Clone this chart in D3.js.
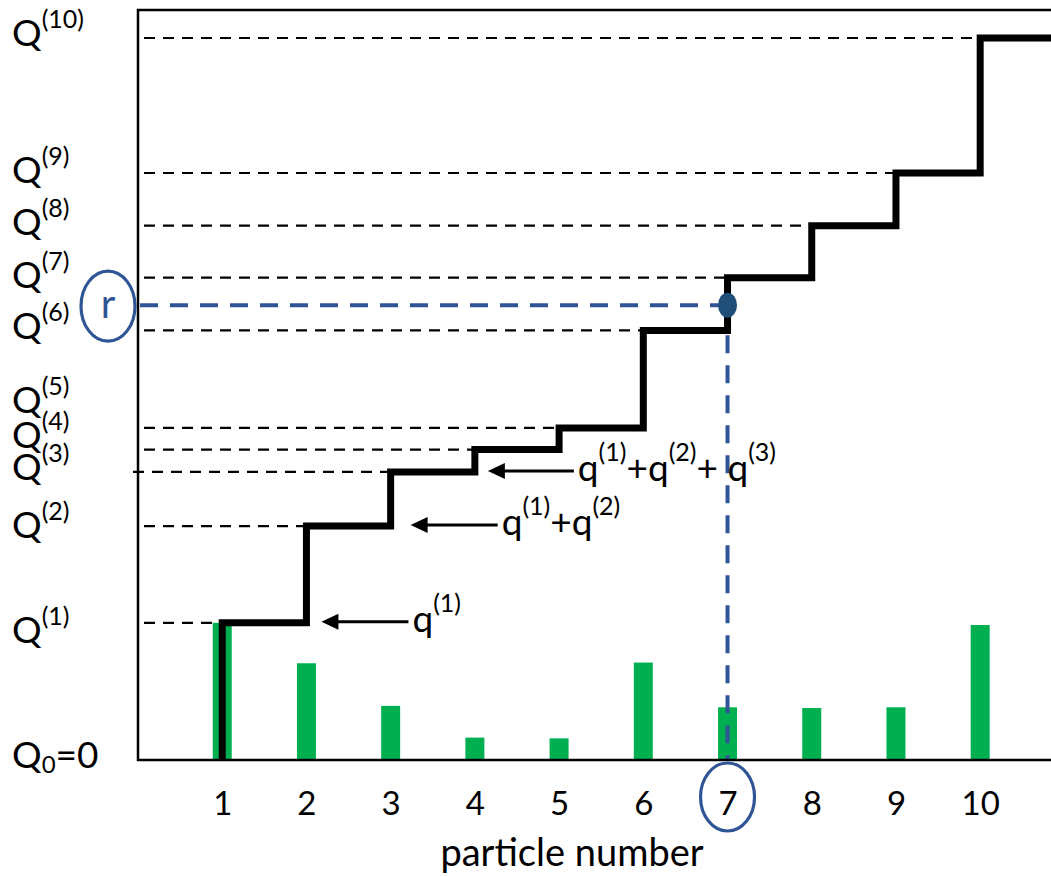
<!DOCTYPE html>
<html>
<head>
<meta charset="utf-8">
<script src="https://cdn.jsdelivr.net/npm/d3@7"></script>
<style>
  html, body { margin: 0; padding: 0; background: #fff; }
  svg { display: block; font-family: Lato, "Open Sans", sans-serif; }
</style>
</head>
<body>
<svg id="chart" width="1051" height="876"></svg>
<script>
// Particle indices and their normalised weights q(i)
const particles = [1, 2, 3, 4, 5, 6, 7, 8, 9, 10];
const weights = [0.19, 0.134, 0.075, 0.031, 0.030, 0.135, 0.073, 0.072, 0.073, 0.187];
const tickLabels = ["1", "2", "3", "4", "5", "6", "7", "8", "9", "10"];
const levelSups = ["(1)", "(2)", "(3)", "(4)", "(5)", "(6)", "(7)", "(8)", "(9)", "(10)"];
// Uniform draw r and the particle it selects
const rValue = 0.63;
const selected = 7;
// Annotations pointing at the first cumulative steps
const sumLabels = [
  ["q", "(1)"],
  ["q", "(1)", "+q", "(2)"],
  ["q", "(1)", "+q", "(2)", "+ q", "(3)"]
];

// Cumulative sums Q(i)
const cumulative = Array.from(d3.cumsum(weights));

const svg = d3.select("#chart");
const BLUE = "#2F5597";
const GREEN = "#00B050";

const x = d3.scaleLinear().domain([0, 11]).range([138, 1064.4]);
const y = d3.scaleLinear().domain([0, 1]).range([760, 38]);
const yTop = 10;

// Pixel nudges of the left-hand level labels below their level
const labelNudge = [20, 12, 8, -2, -15, 9, 10, 9, 10, 8];

// Green weight bars
svg.append("g").selectAll("rect").data(particles).join("rect")
  .attr("x", d => x(d) - 9.5)
  .attr("width", 19)
  .attr("y", (d, i) => y(weights[i]))
  .attr("height", (d, i) => y(0) - y(weights[i]))
  .attr("fill", GREEN);

// Dashed guides from the axis to each step corner
svg.append("g").selectAll("line").data(particles).join("line")
  .attr("x1", (d, i) => i === 2 ? x(0) - 5 : x(0) + 6)
  .attr("x2", d => x(d))
  .attr("y1", (d, i) => y(cumulative[i]))
  .attr("y2", (d, i) => y(cumulative[i]))
  .attr("stroke", "#000")
  .attr("stroke-width", 2.2)
  .attr("stroke-dasharray", "11,8");

// Selection guides for r
svg.append("line")
  .attr("x1", x(0) + 2).attr("x2", x(selected))
  .attr("y1", y(rValue)).attr("y2", y(rValue))
  .attr("stroke", BLUE).attr("stroke-width", 4)
  .attr("stroke-dasharray", "18,12");
svg.append("line")
  .attr("x1", x(selected)).attr("x2", x(selected))
  .attr("y1", y(rValue)).attr("y2", y(0))
  .attr("stroke", BLUE).attr("stroke-width", 4)
  .attr("stroke-dasharray", "18,12");

// Frame
svg.append("path")
  .attr("d", `M${x(11)},${yTop}H${x(0)}V${y(0)}H${x(11)}`)
  .attr("fill", "none").attr("stroke", "#000").attr("stroke-width", 2.5);

// Cumulative step function
const stepPoints = [[1, 0]].concat(particles.map((p, i) => [p + 1, cumulative[i]]));
svg.append("path")
  .datum(stepPoints)
  .attr("d", d3.line().x(d => x(d[0])).y(d => y(d[1])).curve(d3.curveStepBefore))
  .attr("fill", "none").attr("stroke", "#000").attr("stroke-width", 7)
  .attr("stroke-linejoin", "miter");

// Point where r meets the step function
svg.append("ellipse")
  .attr("cx", x(selected)).attr("cy", y(rValue))
  .attr("rx", 9.5).attr("ry", 12.5)
  .attr("fill", "#1F4E79");

// X axis tick labels
const xAxis = d3.axisBottom(x).tickValues(particles)
  .tickFormat((d, i) => tickLabels[i]).tickSize(0).tickPadding(32);
const ax = svg.append("g").attr("transform", `translate(0,${y(0)})`).call(xAxis);
ax.select(".domain").remove();
ax.selectAll("text").attr("font-size", 33).attr("fill", "#000")
  .attr("font-family", "Lato, 'Open Sans', sans-serif");

svg.append("text")
  .attr("x", 572).attr("y", 866)
  .attr("text-anchor", "middle")
  .attr("font-size", 38).attr("fill", "#000")
  .text("particle number");

// Level labels Q(i)
const qLabels = svg.append("g").attr("fill", "#000");
particles.forEach((p, i) => {
  const t = qLabels.append("text")
    .attr("x", 12).attr("y", y(cumulative[i]) + labelNudge[i])
    .attr("font-size", 37);
  t.append("tspan").text("Q");
  t.append("tspan").attr("dy", -18).attr("font-size", 25).text(levelSups[i]);
});
const q0 = qLabels.append("text").attr("x", 12).attr("y", y(0) + 8).attr("font-size", 37);
q0.append("tspan").text("Q");
q0.append("tspan").attr("dy", 5).attr("font-size", 24).text("0");
q0.append("tspan").attr("dy", -5).text("=0");

// Circled r and circled selected particle
svg.append("ellipse")
  .attr("cx", 108).attr("cy", y(rValue) + 1)
  .attr("rx", 27).attr("ry", 35)
  .attr("fill", "none").attr("stroke", BLUE).attr("stroke-width", 3.2);
svg.append("text")
  .attr("x", 108).attr("y", y(rValue) + 13)
  .attr("text-anchor", "middle").attr("font-size", 40)
  .attr("fill", BLUE).text("r");
svg.append("ellipse")
  .attr("cx", x(selected)).attr("cy", 797)
  .attr("rx", 27).attr("ry", 34)
  .attr("fill", "none").attr("stroke", BLUE).attr("stroke-width", 3.2);

// Arrows with partial-sum annotations
const arrowSpecs = [
  { level: 0, tip: 15, len: 87 },
  { level: 1, tip: 20, len: 87 },
  { level: 2, tip: 13, len: 86 }
];
arrowSpecs.forEach((a, k) => {
  const yy = y(cumulative[a.level]) - 1;
  const tipX = x(particles[a.level] + 1) + a.tip;
  const tailX = tipX + a.len;
  svg.append("line")
    .attr("x1", tipX + 12).attr("x2", tailX)
    .attr("y1", yy).attr("y2", yy)
    .attr("stroke", "#000").attr("stroke-width", 3);
  svg.append("path")
    .attr("d", `M${tipX},${yy}L${tipX + 17},${yy - 8}L${tipX + 17},${yy + 8}Z`)
    .attr("fill", "#000");
  const t = svg.append("text")
    .attr("x", tailX + 4).attr("y", yy + 10)
    .attr("font-size", 37).attr("fill", "#000");
  sumLabels[k].forEach((s, j) => {
    const sup = j % 2 === 1;
    t.append("tspan")
      .attr("dy", j === 0 ? 0 : (sup ? -20 : 20))
      .attr("font-size", sup ? 25 : 37)
      .text(s);
  });
});
</script>
</body>
</html>
